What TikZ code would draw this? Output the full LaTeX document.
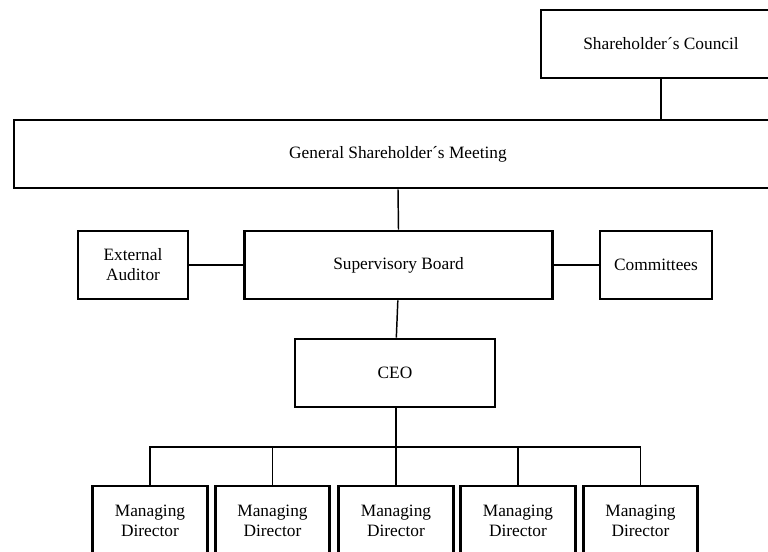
\documentclass[tikz,border=0pt]{standalone}
\usepackage{fontspec}
\setmainfont{Liberation Serif}
\begin{document}
\begin{tikzpicture}[x=0.75pt,y=-0.75pt,
  orgbox/.style={draw,line width=2.2pt,rectangle,inner sep=0pt,align=center,
    font=\fontsize{13}{15}\selectfont},
  link/.style={line width=1.1pt}]
\clip (0,0) rectangle (768,552);
\useasboundingbox (0,0) rectangle (768,552);
% boxes: centre and size in pixel units
\node[orgbox,minimum width=180pt,minimum height=51pt] (council) at (661,44) {Shareholder´s Council};
\node[orgbox,minimum width=576pt,minimum height=51pt] (gsm) at (398,154) {General Shareholder´s Meeting};
\node[orgbox,minimum width=82.5pt,minimum height=51pt] (auditor) at (133,265) {External\\Auditor};
\node[orgbox,minimum width=231pt,minimum height=51pt] (board) at (398.5,265) {Supervisory Board};
\node[orgbox,minimum width=84pt,minimum height=51pt] (committees) at (656,265) {Committees};
\node[orgbox,minimum width=150pt,minimum height=51pt] (ceo) at (395,373) {CEO};
\foreach \i/\cx in {1/150,2/272.5,3/396,4/518,5/640.5}{
  \node[orgbox,minimum width=86pt,minimum height=52.5pt] (md\i) at (\cx,521) {Managing\\Director};
}
% connectors
\draw[link] (council.south) -- (council.south |- gsm.north);
\draw[link] (gsm.south) -- (board.north);
\draw[link] (auditor.east) -- (board.west);
\draw[link] (board.east) -- (committees.west);
\draw[link] ([xshift=-0.5pt]board.south) -- ([xshift=1pt]ceo.north);
\coordinate (bus) at (396,447);
\draw[link] ([xshift=0.75pt]ceo.south) -- (bus);
\draw[link] (md1.north) -- (md1.north |- bus) -- (md5.north |- bus) -- (md5.north);
\foreach \i in {2,3,4}{
  \draw[link] (md\i.north) -- (md\i.north |- bus);
}
\end{tikzpicture}
\end{document}
